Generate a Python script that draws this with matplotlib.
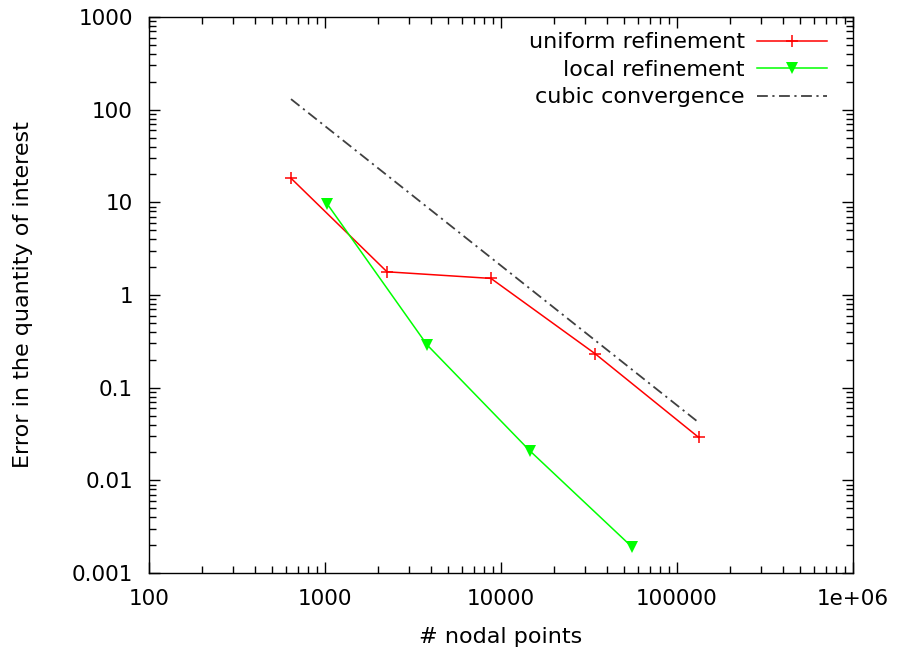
import matplotlib
matplotlib.use("Agg")
import matplotlib.pyplot as plt
from matplotlib.ticker import LogLocator, NullFormatter, FixedLocator, FixedFormatter

# data
uniform_nodes = [641, 2250, 8770, 34200, 133000]
uniform_error = [18.2, 1.78, 1.51, 0.233, 0.0290]

local_nodes = [1026, 3800, 14600, 55500]
local_error = [9.7, 0.29, 0.0208, 0.00191]

cubic_nodes = [641, 133000]
cubic_error = [130, 0.042]

xticks = [100, 1000, 10000, 100000, 1000000]
xtick_labels = ["100", "1000", "10000", "100000", "1e+06"]
yticks = [0.001, 0.01, 0.1, 1, 10, 100, 1000]
ytick_labels = ["0.001", "0.01", "0.1", "1", "10", "100", "1000"]

plt.rcParams["font.family"] = "DejaVu Sans"
plt.rcParams["font.size"] = 16

fig = plt.figure(figsize=(8.99, 6.55), dpi=100)
ax = fig.add_axes([149 / 899, 1 - 573 / 655, (853 - 149) / 899, (573 - 17) / 655])

ax.plot(uniform_nodes, uniform_error, color="#ff0000", lw=1.1, marker="+",
        markersize=9, markeredgewidth=1.1, label="uniform refinement")
ax.plot(local_nodes, local_error, color="#00ff00", lw=1.1, marker="v",
        markersize=8, markeredgewidth=0, label="local refinement")
ax.plot(cubic_nodes, cubic_error, color="#404040", lw=1.3, ls=(0, (6, 2.5, 1.2, 2.5)),
        label="cubic convergence")

ax.set_xscale("log")
ax.set_yscale("log")
ax.set_xlim(100, 1e6)
ax.set_ylim(0.001, 1000)

ax.xaxis.set_major_locator(FixedLocator(xticks))
ax.xaxis.set_major_formatter(FixedFormatter(xtick_labels))
ax.yaxis.set_major_locator(FixedLocator(yticks))
ax.yaxis.set_major_formatter(FixedFormatter(ytick_labels))
ax.xaxis.set_minor_locator(LogLocator(base=10, subs=range(2, 10), numticks=20))
ax.yaxis.set_minor_locator(LogLocator(base=10, subs=range(2, 10), numticks=20))
ax.xaxis.set_minor_formatter(NullFormatter())
ax.yaxis.set_minor_formatter(NullFormatter())

ax.tick_params(which="both", direction="in", top=True, right=True, color="black",
               labelsize=15.5)
ax.tick_params(which="major", length=8, width=1, pad=11.5)
ax.tick_params(which="minor", length=4.7, width=1)
for s in ax.spines.values():
    s.set_linewidth(1)

ax.set_xlabel("# nodal points")
ax.set_ylabel("Error in the quantity of interest")
ax.xaxis.set_label_coords(0.5, -0.097)
ax.yaxis.set_label_coords(-0.165, 0.5)

ax.legend(loc="upper right", bbox_to_anchor=(0.963, 0.9725), frameon=False,
          markerfirst=False, handlelength=3.15, borderaxespad=0, borderpad=0,
          labelspacing=0.34, handletextpad=0.54)

fig.savefig("out.png", dpi=100)
